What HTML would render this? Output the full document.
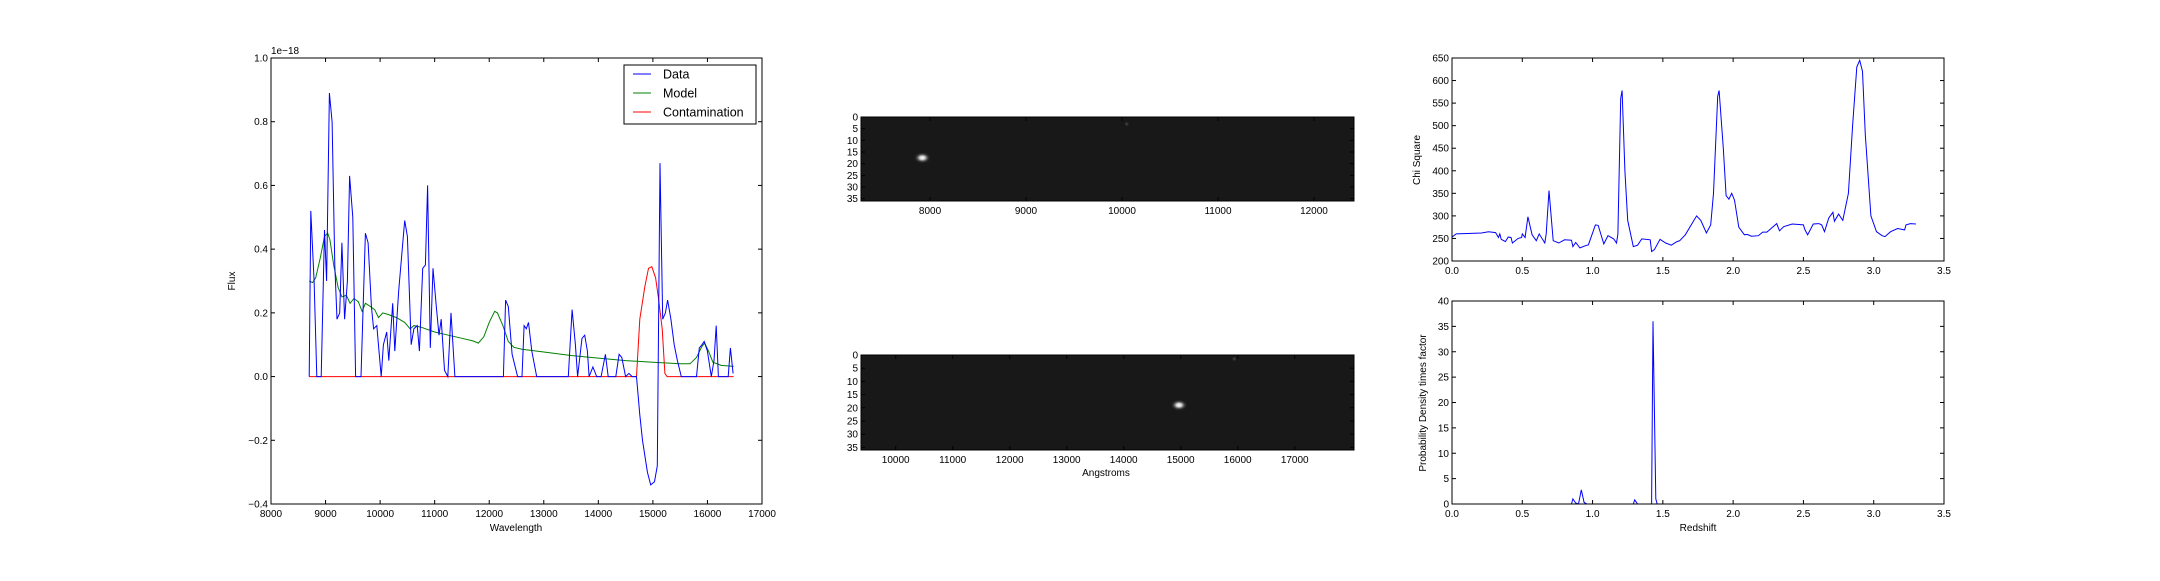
<!DOCTYPE html>
<html><head><meta charset="utf-8"><style>
html,body{margin:0;padding:0;background:#fff;}
svg text{font-family:"Liberation Sans",sans-serif;fill:#000;}
</style></head><body>
<svg id="fig" width="2160" height="576" viewBox="0 0 2160 576" xmlns="http://www.w3.org/2000/svg">
<defs>
<radialGradient id="blob">
<stop offset="0" stop-color="#fff"/><stop offset="0.3" stop-color="#cfcfcf"/><stop offset="0.7" stop-color="#444" stop-opacity="0.5"/><stop offset="1" stop-color="#181818" stop-opacity="0"/>
</radialGradient>
<radialGradient id="faint">
<stop offset="0" stop-color="#555"/><stop offset="1" stop-color="#181818" stop-opacity="0"/>
</radialGradient>
</defs>
</svg>
<script>
// ---- Spectrum data ----
const dataW=[8700,8730,8790,8840,8920,8980,9020,9070,9120,9170,9210,9260,9300,9350,9400,9440,9500,9550,9650,9730,9780,9840,9880,9940,10020,10060,10120,10160,10230,10270,10340,10450,10500,10570,10620,10680,10720,10780,10830,10870,10920,10970,11030,11080,11120,11180,11240,11300,11370,12260,12300,12350,12420,12520,12600,12640,12680,12720,12780,12870,13450,13520,13580,13620,13700,13750,13800,13830,13900,13970,14050,14130,14180,14320,14380,14430,14500,14560,14620,14700,14760,14810,14900,14960,15030,15080,15130,15180,15230,15270,15330,15390,15450,15520,15600,15800,15850,15900,15940,16000,16070,16120,16160,16200,16380,16420,16470];
const dataF=[0,0.52,0.3,0,0,0.46,0.3,0.89,0.8,0.35,0.18,0.2,0.42,0.18,0.3,0.63,0.5,0,0,0.45,0.42,0.22,0.15,0.16,0,0.1,0.14,0.05,0.23,0.08,0.27,0.49,0.44,0.1,0.15,0.16,0.08,0.34,0.35,0.6,0.09,0.34,0.22,0.13,0.18,0.02,0,0.2,0,0,0.24,0.22,0.07,0,0,0.16,0.15,0.17,0.08,0,0,0.21,0.1,0,0.12,0.13,0.08,0,0.03,0,0,0.07,0,0,0.07,0.06,0,0.01,0,0,-0.12,-0.2,-0.3,-0.34,-0.33,-0.28,0.67,0.18,0.2,0.24,0.18,0.1,0.05,0,0,0,0.09,0.1,0.11,0.08,0,0.05,0.16,0,0,0.09,0.01];
const modelW=[8700,8760,8820,8900,8980,9040,9080,9150,9230,9300,9380,9450,9520,9600,9670,9730,9820,9900,9970,10050,10150,10300,10450,10550,10620,10750,11000,11250,11500,11700,11800,11900,12000,12100,12150,12250,12350,12450,12600,13000,13500,14000,14500,15000,15500,15680,15800,15900,15950,16020,16100,16250,16480];
const modelF=[0.3,0.295,0.31,0.37,0.44,0.45,0.43,0.35,0.28,0.25,0.255,0.23,0.245,0.235,0.205,0.23,0.22,0.21,0.185,0.2,0.195,0.185,0.17,0.15,0.16,0.155,0.14,0.13,0.12,0.112,0.105,0.125,0.17,0.205,0.2,0.16,0.11,0.092,0.086,0.077,0.066,0.058,0.05,0.045,0.04,0.04,0.06,0.095,0.105,0.08,0.045,0.035,0.032];
const contW=[8700,14700,14760,14850,14920,14980,15050,15100,15170,15220,15260,16480];
const contF=[0,0,0.18,0.28,0.34,0.345,0.31,0.25,0.15,0.01,0,0];
const specXTicks=[8000,9000,10000,11000,12000,13000,14000,15000,16000,17000];
const specYTicks=[-0.4,-0.2,0.0,0.2,0.4,0.6,0.8,1.0];
// ---- Chi square data ----
const chiZ=[0,0.03,0.11,0.21,0.26,0.31,0.33,0.34,0.35,0.38,0.40,0.42,0.43,0.47,0.495,0.5,0.52,0.54,0.57,0.6,0.62,0.66,0.67,0.69,0.72,0.76,0.8,0.85,0.86,0.88,0.91,0.95,0.97,1.02,1.04,1.08,1.11,1.15,1.17,1.18,1.2,1.21,1.23,1.25,1.29,1.32,1.35,1.41,1.42,1.44,1.48,1.52,1.56,1.6,1.62,1.66,1.74,1.77,1.81,1.84,1.86,1.89,1.9,1.93,1.95,1.97,1.99,2.01,2.04,2.08,2.1,2.13,2.18,2.21,2.24,2.31,2.33,2.36,2.42,2.5,2.51,2.53,2.57,2.61,2.63,2.65,2.68,2.71,2.72,2.75,2.78,2.82,2.85,2.88,2.9,2.92,2.94,2.98,3.02,3.06,3.08,3.12,3.17,3.22,3.23,3.26,3.3];
const chiV=[253,260,261,262,265,263,252,260,248,243,253,252,240,250,252,260,252,298,258,245,260,240,260,356,245,240,247,246,232,241,229,234,236,280,279,238,256,249,240,260,560,578,400,290,232,235,249,247,221,225,248,240,235,243,245,258,300,290,262,280,350,565,578,450,345,337,350,335,275,258,259,255,256,264,264,283,267,276,282,280,270,258,282,283,280,265,295,308,288,304,290,350,500,630,645,620,480,300,265,256,254,265,272,269,280,283,282];
const chiXTicks=[0.0,0.5,1.0,1.5,2.0,2.5,3.0,3.5];
const chiYTicks=[200,250,300,350,400,450,500,550,600,650];
// ---- Probability data ----
const probZ=[0,0.85,0.86,0.88,0.9,0.92,0.94,0.96,1.29,1.3,1.32,1.41,1.42,1.43,1.45,1.46,3.3];
const probV=[0,0,1,0.2,0,2.8,0.3,0,0,0.8,0,0,0,36,1,0,0];
const probYTicks=[0,5,10,15,20,25,30,35,40];
// ---- Image axes ticks ----
const img1XTicks=[8000,9000,10000,11000,12000];
const img2XTicks=[10000,11000,12000,13000,14000,15000,16000,17000];
const imgYTicks=[0,5,10,15,20,25,30,35];

const NS="http://www.w3.org/2000/svg";
const svg=document.getElementById('fig');
function el(tag,attrs,parent){const e=document.createElementNS(NS,tag);for(const k in attrs)e.setAttribute(k,attrs[k]);(parent||svg).appendChild(e);return e;}
function txt(s,x,y,anchor,size,parent){const t=el('text',{x:x,y:y,'text-anchor':anchor,'font-size':size},parent);t.textContent=s;return t;}
function fmt(v,d){return (v<0?'\u2212':'')+Math.abs(v).toFixed(d);}

function axes(name,L,R,T,B,x0,x1,y0,y1){
  const g=el('g',{});
  
  
  return {g,L,R,T,B,sx:v=>L+(v-x0)/(x1-x0)*(R-L),sy:v=>B-(v-y0)/(y1-y0)*(B-T)};
}
function frame(a){const r=el('rect',{x:a.L,y:a.T,width:a.R-a.L,height:a.B-a.T,fill:'none',stroke:'#000','stroke-width':1},a.g);}
function xticks(a,ticks,d,name){
  const g=el('g',{},a.g);
  ticks.forEach(v=>{const x=a.sx(v);
    el('line',{x1:x,y1:a.B,x2:x,y2:a.B-4,stroke:'#000'},g);
    el('line',{x1:x,y1:a.T,x2:x,y2:a.T+4,stroke:'#000'},g);
    txt(fmt(v,d),x,a.B+13,'middle',10,g);});
}
function yticks(a,ticks,d,name){
  const g=el('g',{},a.g);
  ticks.forEach(v=>{const y=a.sy(v);
    el('line',{x1:a.L,y1:y,x2:a.L+4,y2:y,stroke:'#000'},g);
    el('line',{x1:a.R,y1:y,x2:a.R-4,y2:y,stroke:'#000'},g);
    txt(fmt(v,d),a.L-3,y+3.5,'end',10,g);});
}
function line(a,xs,ys,color,name){
  const d=xs.map((x,i)=>(i?'L':'M')+a.sx(x).toFixed(1)+','+a.sy(ys[i]).toFixed(1)).join(' ');
  const p=el('path',{d:d,fill:'none',stroke:color,'stroke-width':1},a.g);
  
  
}

// Spectrum panel
const sp=axes('spectrum-plot',271,762,58,504,8000,17000,-0.4,1.0);
line(sp,contW,contF,'#ff0000','contamination-line');
line(sp,modelW,modelF,'#008000','model-line');
line(sp,dataW,dataF,'#0000ff','data-line');
frame(sp);
xticks(sp,specXTicks,0,'x-axis-ticks');
yticks(sp,specYTicks,1,'y-axis-ticks');
const off=txt('1e\u221218',271,54,'start',10,sp.g);
const xl=txt('Wavelength',516,531,'middle',10,sp.g);
const yl=txt('Flux',0,0,'middle',10,sp.g);yl.setAttribute('transform','translate(235,281) rotate(-90)');
// legend
const lg=el('g',{},sp.g);
el('rect',{x:624,y:65,width:132,height:59,fill:'#fff',stroke:'#000'},lg);
[['Data','#0000ff'],['Model','#008000'],['Contamination','#ff0000']].forEach((e,i)=>{
  const y=74+i*19;
  const eg=el('g',{},lg);
  el('line',{x1:633,y1:y,x2:651,y2:y,stroke:e[1]},eg);
  txt(e[0],663,y+4.5,'start',12.5,eg);
});

// Image panels
function imgPanel(name,T,B,x0,x1,blobs,ticks){
  const a=axes(name,861,1354,T,B,x0,x1,36,0);
  const r=el('rect',{x:861,y:T,width:493,height:B-T,fill:'#181818'},a.g);
  blobs.forEach((b,i)=>{const c=el('ellipse',{cx:a.sx(b[0]),cy:a.sy(b[1]),rx:b[2],ry:b[3],fill:i?'url(#faint)':'url(#blob)'},a.g);});
  frame(a);xticks(a,ticks,0,'x-axis-ticks');yticks(a,imgYTicks,0,'y-axis-ticks');
  return a;
}
const blobs1=[[7920,17.5,9,6],[10050,3,3,3]];
const blobs2=[[14970,19,9,6],[15940,1.5,3,3]];
imgPanel('direct-image-top',117,201,7281,12417,blobs1,img1XTicks);
const ib=imgPanel('direct-image-bottom',355,450,9391,18040,blobs2,img2XTicks);
const al=txt('Angstroms',1106,476,'middle',10,ib.g);

// Chi square
const ch=axes('chi-square-plot',1452,1944,58,261,0,3.5,200,650);
line(ch,chiZ,chiV,'#0000ff','chi-square-line');
frame(ch);xticks(ch,chiXTicks,1,'x-axis-ticks');yticks(ch,chiYTicks,0,'y-axis-ticks');
const cl=txt('Chi Square',0,0,'middle',10,ch.g);cl.setAttribute('transform','translate(1420,160) rotate(-90)');

// Probability
const pr=axes('probability-plot',1452,1944,301,504,0,3.5,0,40);
line(pr,probZ,probV,'#0000ff','probability-line');
frame(pr);xticks(pr,chiXTicks,1,'x-axis-ticks');yticks(pr,probYTicks,0,'y-axis-ticks');
const pl=txt('Probability Density times factor',0,0,'middle',10,pr.g);pl.setAttribute('transform','translate(1426,403) rotate(-90)');
const rl=txt('Redshift',1698,531,'middle',10,pr.g);
</script>
</body></html>
